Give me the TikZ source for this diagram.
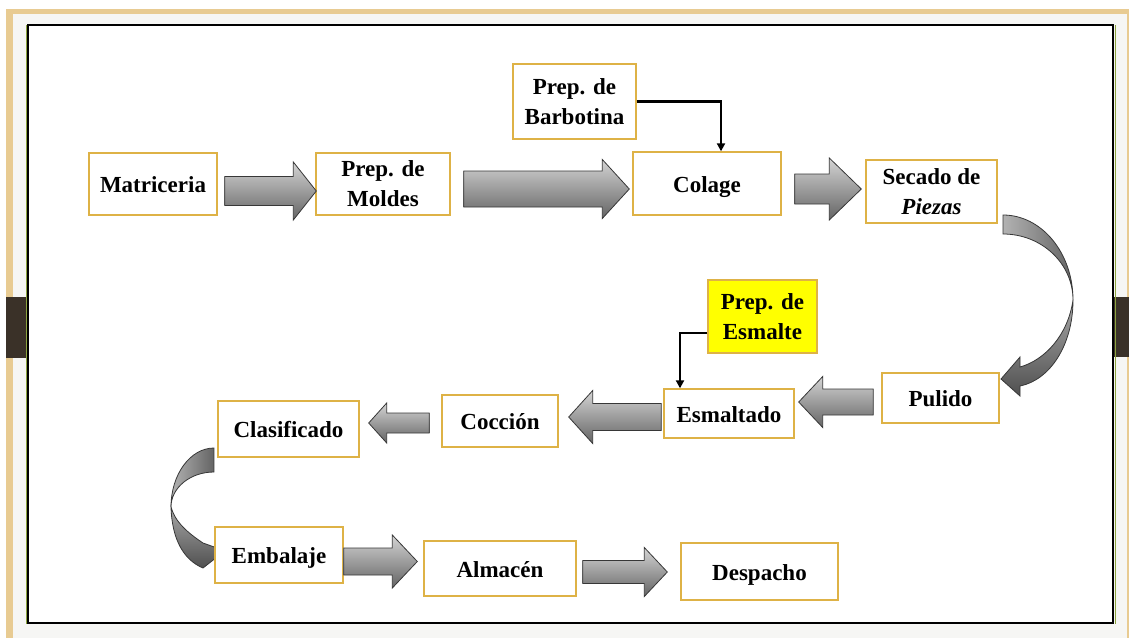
\documentclass[tikz,border=0pt]{standalone}
\usepackage{fontspec}
\setmainfont{Liberation Serif}
\usetikzlibrary{calc,arrows.meta}

\definecolor{boxgold}{RGB}{222,178,70}
\definecolor{arrowtop}{RGB}{212,212,212}
\definecolor{arrowbot}{RGB}{100,100,100}
\definecolor{arrowedge}{RGB}{55,55,55}
\definecolor{frametan}{RGB}{232,203,146}
\definecolor{framepale}{RGB}{246,246,244}
\definecolor{framegreen}{RGB}{140,163,63}
\definecolor{framedark}{RGB}{58,49,40}
\definecolor{markyellow}{RGB}{255,255,0}

% straight block arrow: #1 tail point (sets the axis), #2 tip point (x only),
% #3 shaft half height, #4 head half height, #5 head length
\newcommand{\blockarrow}[5]{%
  \path[barrow] let \p1=#1, \p2=#2, \n1={sign(\x2-\x1)} in
    (\x1,\y1+#3) -- (\x2-\n1*#5,\y1+#3) -- (\x2-\n1*#5,\y1+#4) -- (\x2,\y1)
    -- (\x2-\n1*#5,\y1-#4) -- (\x2-\n1*#5,\y1-#3) -- (\x1,\y1-#3) -- cycle;}

\begin{document}
\begin{tikzpicture}[x=1pt,y=-1pt,
  stage/.style={draw=boxgold, line width=1.4pt, fill=white, inner sep=0pt,
    align=center, font=\bfseries\fontsize{23}{30}\selectfont},
  oneline/.style={text height=17pt, text depth=0pt},
  barrow/.style={draw=arrowedge, line width=0.8pt, top color=arrowtop,
    bottom color=arrowbot, line join=miter},
  bandback/.style={draw=arrowedge, line width=0.8pt, left color=arrowtop!70!arrowbot,
    right color=arrowbot},
  bandfront/.style={draw=arrowedge, line width=0.8pt, top color=arrowtop!60!arrowbot,
    bottom color=arrowbot!80!black, line join=miter},
  feed/.style={draw=black, line width=2.8pt, -{Triangle[length=8pt,width=8pt]}},
]
\useasboundingbox (0,0) rectangle (1129,637);

% slide frame
\fill[white] (0,0) rectangle (1129,637);
\fill[frametan] (6,9) rectangle (1140,650);
\fill[framepale] (13,14) rectangle (1127,650);
\fill[framedark] (6,297) rectangle (27,358);
\fill[framedark] (1114,297) rectangle (1129,357);
\draw[framegreen, line width=1.5pt] (26.3,25) -- (26.3,624);
\draw[framegreen, line width=1.5pt] (1115.3,25) -- (1115.3,624);
\draw[black, line width=2pt, fill=white] (28,25) rectangle (1113,623);

% curved arrow on the right: back band, then front band with head
\path[bandback] (1003,215) .. controls (1041.7,215) and (1073,253) .. (1073,300)
  .. controls (1073,263.5) and (1041.7,234) .. (1003,234) -- cycle;
\path[bandfront] (1073,300) .. controls (1073,345) and (1050,380) .. (1020,386)
  -- (1020,396) -- (1001,379) -- (1020,357) -- (1020,367)
  .. controls (1045,360) and (1068,335) .. (1073,300) -- cycle;

% curved arrow on the left
\path[bandback] (214,448) .. controls (190.3,448) and (171,474.4) .. (171,507)
  .. controls (171,487.7) and (190.3,472) .. (214,472) -- cycle;
\path[bandfront] (171,507) .. controls (172,540) and (184,560) .. (203,568)
  -- (217,557) -- (217,548) -- (203,543)
  .. controls (188,533) and (175,522) .. (171,507) -- cycle;

% process stages
\node[stage, oneline, minimum width=128pt, minimum height=62pt] (mat) at (153,184) {Matriceria};
\node[stage, minimum width=134pt, minimum height=62pt] (mol) at (383,184) {Prep. de\\Moldes};
\node[stage, minimum width=123pt, minimum height=75pt] (bar) at (574.5,101.5) {Prep. de\\Barbotina};
\node[stage, oneline, minimum width=148pt, minimum height=63pt] (col) at (707,183.5) {Colage};
\node[stage, minimum width=131pt, minimum height=63pt] (sec) at (931.5,191.5) {Secado de\\\textit{Piezas}};
\node[stage, oneline, minimum width=117pt, minimum height=50pt] (pul) at (940.5,398) {Pulido};
\node[stage, fill=markyellow, minimum width=109pt, minimum height=73pt] (esm) at (762.5,316.5) {Prep. de\\Esmalte};
\node[stage, oneline, minimum width=130pt, minimum height=49pt] (est) at (729,413.5) {Esmaltado};
\node[stage, oneline, minimum width=116pt, minimum height=52pt] (coc) at (500,421) {Cocción};
\node[stage, oneline, minimum width=141pt, minimum height=56pt] (cla) at (288.5,429) {Clasificado};
\node[stage, oneline, minimum width=128pt, minimum height=56pt] (emb) at (279,555) {Embalaje};
\node[stage, oneline, minimum width=152pt, minimum height=55pt] (alm) at (500,568.5) {Almacén};
\node[stage, oneline, minimum width=157pt, minimum height=57pt] (des) at (759.5,571.5) {Despacho};

% main flow
\blockarrow{($(mat.east)+(7,7)$)}{($(mol.west)+(1,0)$)}{14.5pt}{29pt}{23pt}
\blockarrow{($(mol.east)+(13,5)$)}{($(col.west)+(-3,0)$)}{18pt}{29.5pt}{27pt}
\blockarrow{($(col.east)+(13,5.5)$)}{($(sec.west)+(-4,0)$)}{15pt}{31pt}{32pt}
\blockarrow{($(pul.west)+(-8,4)$)}{($(est.east)+(4,0)$)}{13pt}{25.5pt}{24pt}
\blockarrow{($(est.west)+(-2,3.5)$)}{($(coc.east)+(10,0)$)}{13.5pt}{26.5pt}{24pt}
\blockarrow{($(coc.west)+(-12,2)$)}{($(cla.east)+(9,0)$)}{10pt}{20pt}{18pt}
\blockarrow{($(emb.east)+(0,6.5)$)}{($(alm.west)+(-6,0)$)}{13.5pt}{26.5pt}{25pt}
\blockarrow{($(alm.east)+(6,3.5)$)}{($(des.west)+(-13,0)$)}{11.5pt}{24.5pt}{23pt}

% feed lines
\draw[feed] (bar.east) -| ($(col.north)+(14,0)$);
\draw[feed] ($(esm.west)+(0,16.5)$) -| ($(est.north)+(-49,0)$);
\end{tikzpicture}
\end{document}
